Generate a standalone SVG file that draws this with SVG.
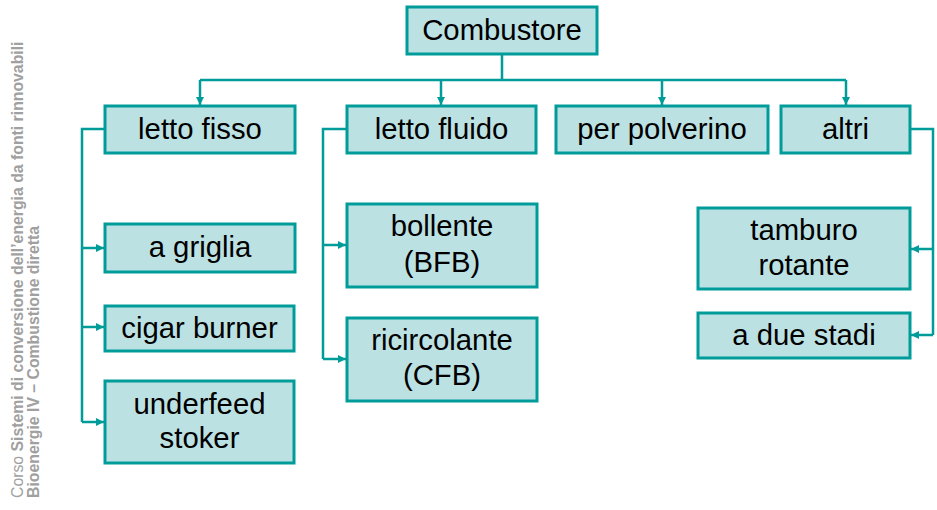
<svg xmlns="http://www.w3.org/2000/svg" width="937" height="510" viewBox="0 0 937 510">
<style>
.box{fill:#BCE1E3;stroke:#009C9A;stroke-width:3}
.t{font-family:"Liberation Sans",Arial,sans-serif;font-size:29.3px;fill:#000;text-anchor:middle}
.c{fill:none;stroke:#009C9A;stroke-width:2.5}
.side{font-family:"Liberation Sans",Arial,sans-serif;font-size:15.8px;fill:#A0A0A0}
</style>
<defs>
<marker id="ah" viewBox="0 0 8 8" refX="8" refY="4" markerWidth="8" markerHeight="8" markerUnits="userSpaceOnUse" orient="auto">
<path d="M0,0 L8,4 L0,8 Z" fill="#009C9A"/>
</marker>
</defs>
<rect width="937" height="510" fill="#fff"/>
<g id="side-caption">
<text class="side" transform="translate(23,498) rotate(-90)">Corso <tspan font-weight="bold">Sistemi di conversione dell’energia da fonti rinnovabili</tspan></text>
<text class="side" font-weight="bold" transform="translate(39,498) rotate(-90)">Bioenergie IV – Combustione diretta</text>
</g>
<g id="connectors">
<path class="c" d="M502,54 V80 M200,80 H846"/>
<path class="c" d="M200,80 V105" marker-end="url(#ah)"/>
<path class="c" d="M441,80 V105" marker-end="url(#ah)"/>
<path class="c" d="M662,80 V105" marker-end="url(#ah)"/>
<path class="c" d="M846,80 V105" marker-end="url(#ah)"/>
<path class="c" stroke-width="3" d="M105,129 H82 V422"/>
<path class="c" d="M82,248 H104" marker-end="url(#ah)"/>
<path class="c" d="M82,327 H104" marker-end="url(#ah)"/>
<path class="c" d="M82,422 H104" marker-end="url(#ah)"/>
<path class="c" stroke-width="3" d="M347,129 H323 V359"/>
<path class="c" d="M323,245 H346" marker-end="url(#ah)"/>
<path class="c" d="M323,359 H346" marker-end="url(#ah)"/>
<path class="c" stroke-width="3" d="M910,129 H933 V335"/>
<path class="c" d="M933,249 H911" marker-end="url(#ah)"/>
<path class="c" d="M933,335 H911" marker-end="url(#ah)"/>
</g>
<g id="combustore"><rect class="box" x="407" y="7" width="190" height="47"/><text class="t" x="502" y="40">Combustore</text></g>
<g id="letto-fisso"><rect class="box" x="105" y="106" width="190" height="47"/><text class="t" x="200" y="139">letto fisso</text></g>
<g id="letto-fluido"><rect class="box" x="347" y="106" width="189" height="47"/><text class="t" x="441.5" y="139">letto fluido</text></g>
<g id="per-polverino"><rect class="box" x="556" y="106" width="212" height="47"/><text class="t" x="662" y="139">per polverino</text></g>
<g id="altri"><rect class="box" x="781" y="106" width="129" height="47"/><text class="t" x="845.5" y="139">altri</text></g>
<g id="a-griglia"><rect class="box" x="105" y="224" width="190" height="48"/><text class="t" x="200" y="257">a griglia</text></g>
<g id="cigar-burner"><rect class="box" x="105" y="306" width="189" height="45"/><text class="t" x="199.5" y="338">cigar burner</text></g>
<g id="underfeed-stoker"><rect class="box" x="105" y="381" width="189" height="82"/><text class="t" x="199.5" y="414">underfeed</text><text class="t" x="199.5" y="448">stoker</text></g>
<g id="bollente"><rect class="box" x="347" y="204" width="190" height="83"/><text class="t" x="442" y="236">bollente</text><text class="t" x="442" y="272">(BFB)</text></g>
<g id="ricircolante"><rect class="box" x="347" y="318" width="190" height="83"/><text class="t" x="442" y="350">ricircolante</text><text class="t" x="442" y="385">(CFB)</text></g>
<g id="tamburo-rotante"><rect class="box" x="698" y="208" width="212" height="81"/><text class="t" x="804" y="240">tamburo</text><text class="t" x="804" y="275">rotante</text></g>
<g id="a-due-stadi"><rect class="box" x="698" y="313" width="212" height="45"/><text class="t" x="804" y="345">a due stadi</text></g>
</svg>
